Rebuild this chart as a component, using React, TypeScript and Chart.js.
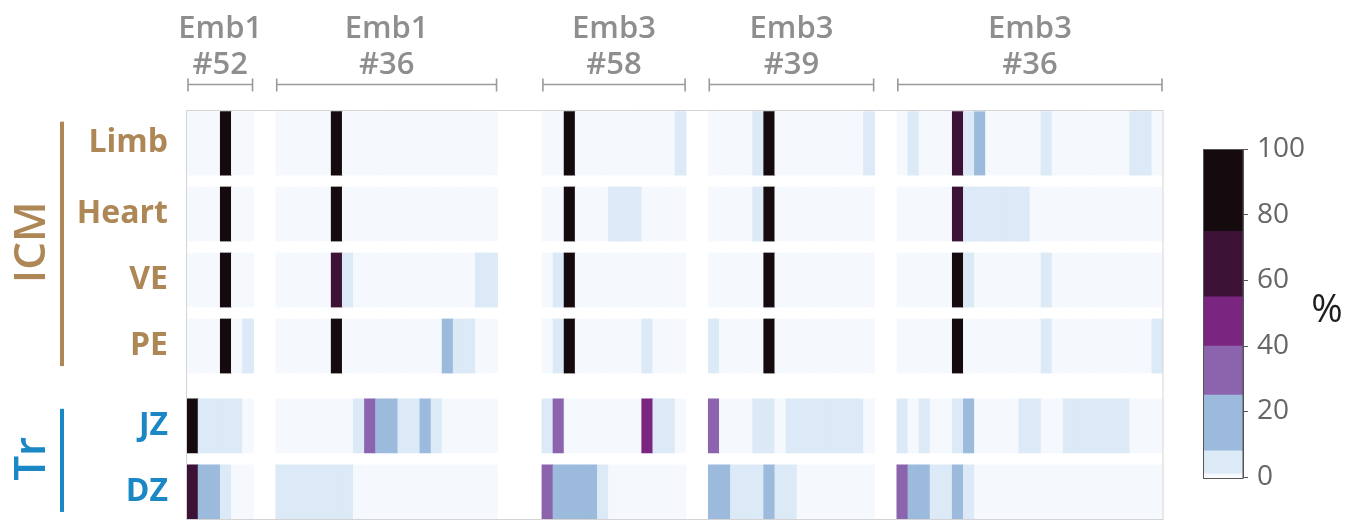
import React, { useEffect, useRef } from 'react';
import { Chart, registerables } from 'chart.js';

Chart.register(...registerables);

// ---------- data ----------
const groupNames = ['Emb1', 'Emb1', 'Emb3', 'Emb3', 'Emb3'];
const groupIds = ['#52', '#36', '#58', '#39', '#36'];
const gapBefore = [0, 2, 4, 2, 2]; // empty columns in front of each embryo block

const rowNames = ['Limb', 'Heart', 'VE', 'PE', 'JZ', 'DZ'];
const rowLineage = ['ICM', 'ICM', 'ICM', 'ICM', 'Tr', 'Tr'];
const lineageNames = ['ICM', 'Tr'];

// percent per cell; one inner array per embryo block
const limb = [
  [0, 0, 0, 100, 0, 0],
  [0, 0, 0, 0, 0, 100, 0, 0, 0, 0, 0, 0, 0, 0, 0, 0, 0, 0, 0, 0],
  [0, 0, 100, 0, 0, 0, 0, 0, 0, 0, 0, 0, 4],
  [0, 0, 0, 0, 4, 100, 0, 0, 0, 0, 0, 0, 0, 0, 4],
  [0, 4, 0, 0, 0, 65, 4, 15, 0, 0, 0, 0, 0, 4, 0, 0, 0, 0, 0, 0, 0, 4, 4, 0],
];
const heart = [
  [0, 0, 0, 100, 0, 0],
  [0, 0, 0, 0, 0, 100, 0, 0, 0, 0, 0, 0, 0, 0, 0, 0, 0, 0, 0, 0],
  [0, 0, 100, 0, 0, 0, 4, 4, 4, 0, 0, 0, 0],
  [0, 0, 0, 0, 4, 100, 0, 0, 0, 0, 0, 0, 0, 0, 0],
  [0, 0, 0, 0, 0, 65, 4, 4, 4, 4, 4, 4, 0, 0, 0, 0, 0, 0, 0, 0, 0, 0, 0, 0],
];
const ve = [
  [0, 0, 0, 100, 0, 0],
  [0, 0, 0, 0, 0, 65, 4, 0, 0, 0, 0, 0, 0, 0, 0, 0, 0, 0, 4, 4],
  [0, 4, 100, 0, 0, 0, 0, 0, 0, 0, 0, 0, 0],
  [0, 0, 0, 0, 0, 100, 0, 0, 0, 0, 0, 0, 0, 0, 0],
  [0, 0, 0, 0, 0, 100, 4, 0, 0, 0, 0, 0, 0, 4, 0, 0, 0, 0, 0, 0, 0, 0, 0, 0],
];
const pe = [
  [0, 0, 0, 100, 0, 4],
  [0, 0, 0, 0, 0, 100, 0, 0, 0, 0, 0, 0, 0, 0, 0, 15, 4, 4, 0, 0],
  [0, 4, 100, 0, 0, 0, 0, 0, 0, 4, 0, 0, 0],
  [4, 0, 0, 0, 0, 100, 0, 0, 0, 0, 0, 0, 0, 0, 0],
  [0, 0, 0, 0, 0, 100, 0, 0, 0, 0, 0, 0, 0, 4, 0, 0, 0, 0, 0, 0, 0, 0, 0, 4],
];
const jz = [
  [100, 4, 4, 4, 4, 0],
  [0, 0, 0, 0, 0, 0, 0, 4, 32, 15, 15, 4, 4, 15, 4, 0, 0, 0, 0, 0],
  [4, 32, 0, 0, 0, 0, 0, 0, 0, 48, 4, 4, 0],
  [32, 0, 0, 0, 4, 4, 0, 4, 4, 4, 4, 4, 4, 4, 0],
  [4, 0, 4, 0, 0, 4, 15, 0, 0, 0, 0, 4, 4, 0, 0, 4, 4, 4, 4, 4, 4, 0, 0, 0],
];
const dz = [
  [65, 15, 15, 4, 0, 0],
  [4, 4, 4, 4, 4, 4, 4, 0, 0, 0, 0, 0, 0, 0, 0, 0, 0, 0, 0, 0],
  [32, 15, 15, 15, 15, 4, 0, 0, 0, 0, 0, 0, 0],
  [15, 15, 4, 4, 4, 15, 4, 4, 0, 0, 0, 0, 0, 0, 0],
  [32, 15, 15, 4, 4, 15, 4, 0, 0, 0, 0, 0, 0, 0, 0, 0, 0, 0, 0, 0, 0, 0, 0, 0],
];
const rowValues = [limb, heart, ve, pe, jz, dz];

// colour scale bins (%)
const binEdges = [0, 1, 8, 25, 40, 55, 75, 100];
const colorTicks = [0, 20, 40, 60, 80, 100];

// ---------- styles ----------
const binColors = ['#f5f9fd', '#dce9f6', '#9cbadc', '#8c64ad', '#7a2580', '#3c1236', '#150a0e'];
const lineageColors: Record<string, string> = { ICM: '#ad8755', Tr: '#1b87c5' };
const FONT = '"Open Sans", "DejaVu Sans", sans-serif';
const Y_MIN = -0.576;
const Y_MAX = 5.621;
const HALF = 0.41;
const TR_SHIFT = 0.21;

function colorFor(v: number | null) {
  if (v == null) return 'rgba(0,0,0,0)';
  for (let i = binColors.length - 1; i >= 0; i--) {
    if (v >= binEdges[i]) return binColors[i];
  }
  return binColors[0];
}

function rowSpan(r: number): [number, number] {
  const c = r + (rowLineage[r] === 'Tr' ? TR_SHIFT : 0);
  const top = r === 0 ? Y_MIN + 0.025 : c - HALF;
  return [top, c + HALF];
}

export default function App() {
  const mainRef = useRef<HTMLCanvasElement>(null);
  const cbRef = useRef<HTMLCanvasElement>(null);

  useEffect(() => {
    document.body.style.margin = '0';
    const columns: string[] = [];
    const groupRanges: [number, number][] = [];
    const flat: (number | null)[][] = rowNames.map(() => []);
    groupNames.forEach((g, gi) => {
      for (let k = 0; k < gapBefore[gi]; k++) {
        columns.push('gap' + columns.length);
        flat.forEach((f) => f.push(null));
      }
      const start = columns.length;
      const n = rowValues[0][gi].length;
      for (let c = 0; c < n; c++) {
        columns.push(`${g} ${groupIds[gi]} c${c + 1}`);
        rowValues.forEach((rv, r) => flat[r].push(rv[gi][c]));
      }
      groupRanges.push([start, columns.length - 1]);
    });

    const spans = rowNames.map((_, r) => rowSpan(r));
    const centers = spans.map(([a, b]) => (a + b) / 2);

    const datasets = rowNames.map((name, r) => ({
      label: name,
      data: flat[r].map((v) => (v == null ? null : spans[r])),
      backgroundColor: (ctx: any) => colorFor(flat[r][ctx.dataIndex]),
      borderWidth: 0,
      grouped: false,
      barPercentage: 1,
      categoryPercentage: 1,
    }));

    const decor = {
      id: 'decor',
      afterDraw(chart: any) {
        const { ctx, chartArea, scales } = chart;
        const xs = scales.x;
        const ys = scales.y;
        ctx.save();
        // frame
        ctx.strokeStyle = '#d4d4d4';
        ctx.lineWidth = 1;
        ctx.strokeRect(chartArea.left - 0.5, chartArea.top + 0.5, chartArea.right - chartArea.left + 0.5, chartArea.bottom - chartArea.top);
        // headers
        const half = (xs.getPixelForValue(1) - xs.getPixelForValue(0)) / 2;
        groupRanges.forEach(([s, e], gi) => {
          const x0 = xs.getPixelForValue(s) - half + 1;
          const x1 = xs.getPixelForValue(e) + half - 1;
          const yb = chartArea.top - 25.5;
          ctx.strokeStyle = '#9a9a9a';
          ctx.lineWidth = 1.6;
          ctx.beginPath();
          ctx.moveTo(x0, yb);
          ctx.lineTo(x1, yb);
          ctx.moveTo(x0, yb - 6);
          ctx.lineTo(x0, yb + 7);
          ctx.moveTo(x1, yb - 6);
          ctx.lineTo(x1, yb + 7);
          ctx.stroke();
          ctx.fillStyle = '#8e8e8e';
          ctx.font = `600 31px ${FONT}`;
          ctx.textAlign = 'center';
          ctx.textBaseline = 'alphabetic';
          const xc = (x0 + x1) / 2;
          ctx.fillText(groupNames[gi], xc, chartArea.top - 72);
          ctx.fillText(groupIds[gi], xc, chartArea.top - 36);
        });
        // lineage brackets
        lineageNames.forEach((L) => {
          const idx = rowNames.map((_, i) => i).filter((i) => rowLineage[i] === L);
          const yTop = ys.getPixelForValue(spans[idx[0]][0]);
          const yBot = ys.getPixelForValue(spans[idx[idx.length - 1]][1]);
          const col = lineageColors[L];
          ctx.strokeStyle = col;
          ctx.lineWidth = 4;
          ctx.beginPath();
          ctx.moveTo(62, yTop + 10);
          ctx.lineTo(62, yBot - 7);
          ctx.stroke();
          ctx.save();
          ctx.translate(45, (yTop + yBot) / 2);
          ctx.rotate(-Math.PI / 2);
          ctx.fillStyle = col;
          ctx.font = `600 44px ${FONT}`;
          ctx.textAlign = 'center';
          ctx.textBaseline = 'alphabetic';
          ctx.fillText(L, 0, 0);
          ctx.restore();
        });
        ctx.restore();
      },
    };

    const main = new Chart(mainRef.current as HTMLCanvasElement, {
      type: 'bar',
      data: { labels: columns, datasets: datasets as any },
      options: {
        animation: false,
        responsive: false,
        events: [],
        layout: { padding: { left: 0, top: 110, right: 199, bottom: 2 } },
        plugins: { legend: { display: false }, tooltip: { enabled: false } },
        scales: {
          x: { display: false, offset: true },
          y: {
            type: 'linear',
            reverse: true,
            min: Y_MIN,
            max: Y_MAX,
            grid: { display: false, drawTicks: false },
            border: { display: false },
            afterBuildTicks: (s: any) => {
              s.ticks = centers.map((v) => ({ value: v }));
            },
            afterFit: (s: any) => {
              s.width = 187;
              s.paddingTop = 0;
              s.paddingBottom = 0;
            },
            ticks: {
              autoSkip: false,
              padding: 19,
              font: { family: FONT, size: 32, weight: 'bold' },
              color: (c: any) => lineageColors[rowLineage[c.index]] || '#000',
              callback: (_v: any, i: number) => rowNames[i],
            },
          },
        },
      } as any,
      plugins: [decor],
    });

    const cbDecor = {
      id: 'cbDecor',
      afterDraw(chart: any) {
        const { ctx, chartArea } = chart;
        ctx.save();
        ctx.strokeStyle = '#555';
        ctx.lineWidth = 1;
        ctx.strokeRect(chartArea.left + 0.5, chartArea.top, chartArea.right - chartArea.left - 0.5, chartArea.bottom - chartArea.top + 1.5);
        ctx.fillStyle = '#1e1e1e';
        ctx.font = `500 38px ${FONT}`;
        ctx.textAlign = 'center';
        ctx.textBaseline = 'middle';
        ctx.fillText('%', chart.width - 35, (chartArea.top + chartArea.bottom) / 2 - 2);
        ctx.restore();
      },
    };

    const cb = new Chart(cbRef.current as HTMLCanvasElement, {
      type: 'bar',
      data: {
        labels: ['%'],
        datasets: binColors.map((c, i) => ({
          label: `${binEdges[i]}-${binEdges[i + 1]}`,
          data: [[binEdges[i], binEdges[i + 1]]],
          backgroundColor: c,
          borderWidth: 0,
          grouped: false,
          barPercentage: 1,
          categoryPercentage: 1,
        })) as any,
      },
      options: {
        animation: false,
        responsive: false,
        events: [],
        layout: { padding: { left: 13, top: 19.5, right: 0, bottom: 23 } },
        plugins: { legend: { display: false }, tooltip: { enabled: false } },
        scales: {
          x: { display: false },
          y: {
            type: 'linear',
            position: 'right',
            min: 0,
            max: 100,
            afterBuildTicks: (s: any) => {
              s.ticks = colorTicks.map((v) => ({ value: v }));
            },
            afterFit: (s: any) => {
              s.width = 119;
              s.paddingTop = 0;
              s.paddingBottom = 0;
            },
            grid: { drawOnChartArea: false, drawTicks: true, tickLength: 5, color: '#555', lineWidth: 1 },
            border: { display: true, color: '#555', width: 1 },
            ticks: { padding: 9, font: { family: FONT, size: 28 }, color: '#666' },
          },
        },
      } as any,
      plugins: [cbDecor],
    });

    return () => {
      main.destroy();
      cb.destroy();
    };
  }, []);

  return (
    <div style={{ position: 'relative', width: 1362, height: 521, background: '#fff' }}>
      <canvas ref={mainRef} width={1362} height={521} style={{ position: 'absolute', left: 0, top: 0, width: 1362, height: 521 }} />
      <canvas ref={cbRef} width={172} height={370} style={{ position: 'absolute', left: 1190, top: 130, width: 172, height: 370 }} />
    </div>
  );
}
